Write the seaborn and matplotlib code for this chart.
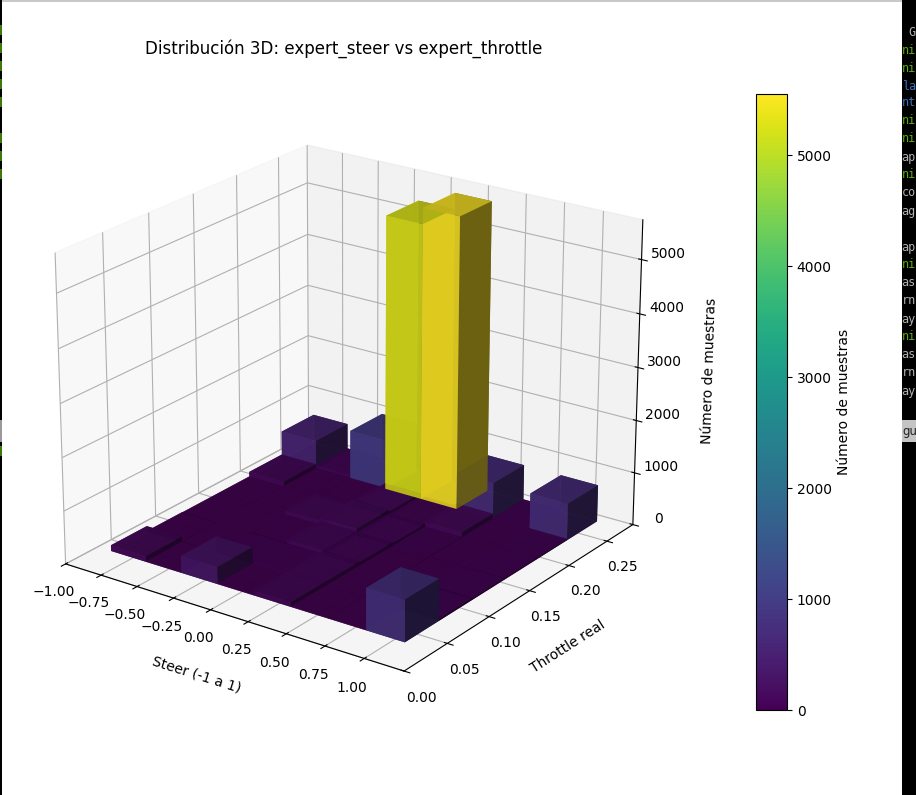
import numpy as np
import pandas as pd
import seaborn as sns
import matplotlib
matplotlib.use('Agg')
from matplotlib import pyplot as plt
from matplotlib.patches import Rectangle
from matplotlib.cm import ScalarMappable
from matplotlib.colors import Normalize

# histogram
steer_edges = [-0.905, -0.659, -0.413, -0.167, 0.079, 0.325, 0.571, 0.817, 1.063]
throttle_edges = [0.035, 0.075, 0.115, 0.155, 0.195, 0.235, 0.275]
steer_0 = [110, 15, 10, 10, 100, 560]
steer_1 = [15, 10, 10, 15, 20, 70]
steer_2 = [320, 30, 15, 90, 20, 950]
steer_3 = [15, 30, 90, 140, 110, 5250]
steer_4 = [90, 90, 80, 70, 60, 5550]
steer_5 = [15, 15, 20, 25, 110, 700]
steer_6 = [10, 10, 15, 15, 20, 30]
steer_7 = [780, 40, 30, 30, 30, 700]

# terminal text showing behind the window
term_bits = ['G', 'ni', 'ni', 'la', 'nt', 'ni', 'ni', 'ap', 'ni', 'co', 'ag', 'ap', 'ni', 'as', 'rn', 'ay', 'ni', 'as', 'rn', 'ay']
term_rows = [32, 50, 68, 86, 103, 121, 139, 157, 175, 193, 211, 247, 265, 283, 301, 319, 337, 355, 373, 391]
term_cols = ['g', 'n', 'n', 'b', 'b', 'n', 'n', 'g', 'n', 'g', 'g', 'g', 'n', 'g', 'g', 'g', 'n', 'g', 'g', 'g']
left_green = [25, 43, 61, 79, 97, 133, 151, 169, 446]

W, H = 916, 795
colors_term = {'g': '#b0b0b0', 'n': '#5aae08', 'b': '#3a70b8'}

def px_box(x0, y0, x1, y1):
    # pixel box, y from the top of the image
    return [x0 / W, 1 - y1 / H, (x1 - x0) / W, (y1 - y0) / H]

def px_rect(x0, y0, x1, y1, col, z=-1):
    l, b, w, h = px_box(x0, y0, x1, y1)
    fig.add_artist(Rectangle((l, b), w, h, transform=fig.transFigure, facecolor=col, edgecolor='none', zorder=z))

counts = np.array([steer_0, steer_1, steer_2, steer_3, steer_4, steer_5, steer_6, steer_7], dtype=float)
xs = np.array(steer_edges)
ys = np.array(throttle_edges)
xx, yy = np.meshgrid(xs[:-1], ys[:-1], indexing='ij')
table = pd.DataFrame({'x': xx.ravel(), 'y': yy.ravel(), 'n': counts.ravel()})

cmap = sns.color_palette('viridis', as_cmap=True)
norm = Normalize(vmin=0, vmax=table['n'].max())

fig = plt.figure(figsize=(W / 100, H / 100), dpi=100, facecolor='black')
px_rect(2, 0, 902, H, 'white', z=-2)
px_rect(2, 0, 902, 2, '#c8c8c8', z=-1)

ax = fig.add_axes(px_box(19, 76.5, 669, 726.5), projection='3d')
ax.patch.set_alpha(0)
ax.bar3d(table['x'], table['y'], 0, xs[1] - xs[0], ys[1] - ys[0], table['n'],
         color=cmap(norm(table['n'])), alpha=0.9)
ax.set_xlim(-1.0, 1.25)
ax.set_ylim(0, 0.285)
ax.set_zlim(0, 5725)
ax.set_box_aspect((4, 4, 3.21), zoom=1.005)
ax.set_xticks(np.arange(-1, 1.01, 0.25))
ax.set_yticks(np.arange(0, 0.26, 0.05))
ax.set_zticks(range(0, 5001, 1000))
ax.view_init(elev=22, azim=-54.5)
ax.set_xlabel('Steer (-1 a 1)', labelpad=10)
ax.set_ylabel('Throttle real', labelpad=10)
ax.set_zlabel('Número de muestras', labelpad=10)
ax.set_title('Distribución 3D: expert_steer vs expert_throttle', x=0.5, y=1.0, pad=54)
plt.setp(ax.get_zticklabels(), va='baseline')

cax = fig.add_axes(px_box(756, 94, 787, 710))
cbar = fig.colorbar(ScalarMappable(norm=norm, cmap=cmap), cax=cax)
cbar.set_label('Número de muestras')

# bits of the terminal behind, only the part inside the picture
for t, r, c in zip(term_bits, term_rows, term_cols):
    fig.text((908 if t == 'G' else 901.7) / W, 1 - r / H, t, color=colors_term[c], family='DejaVu Sans Mono', fontsize=8.5, va='center', ha='left')
px_rect(902, 420, W, 442, '#c4c4c4')
fig.text(902 / W, 1 - 432 / H, 'gu', color='#222222', family='DejaVu Sans', fontsize=8.5, va='center', ha='left')
px_rect(0, 420, 2, 442, '#999999')
for r in left_green:
    px_rect(0, r, 2, r + 10, '#3d7a05')

fig.savefig('out.png', dpi=100, facecolor=fig.get_facecolor())
